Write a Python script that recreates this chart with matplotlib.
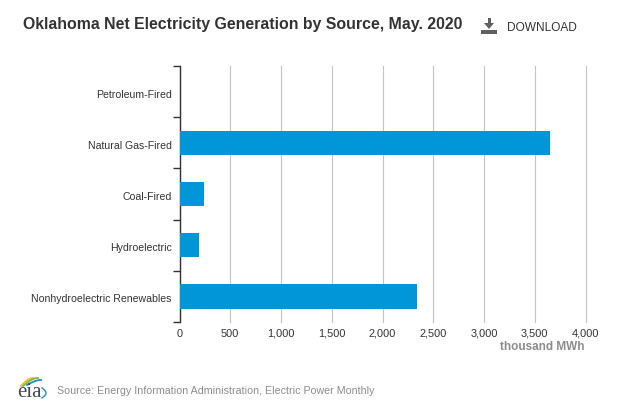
import matplotlib
matplotlib.use("Agg")
import matplotlib.pyplot as plt
import numpy as np
from matplotlib.patches import Polygon, Rectangle

plt.rcParams["font.family"] = ["Liberation Sans", "DejaVu Sans"]

# ── data ──────────────────────────────────────────────
categories = [
    "Petroleum-Fired",
    "Natural Gas-Fired",
    "Coal-Fired",
    "Hydroelectric",
    "Nonhydroelectric Renewables",
]
values = [1, 3650, 240, 195, 2340]
x_ticks = [0, 500, 1000, 1500, 2000, 2500, 3000, 3500, 4000]

W, H = 624, 411
BAR_BLUE = "#0096d7"
DARK = "#333333"
GREY = "#8c8c8c"


def fx(px):
    return px / W


def fy(py):
    return 1 - py / H


fig = plt.figure(figsize=(W / 100, H / 100), dpi=100, facecolor="white")

# plot area: x 179.5-585.5, y 66-322 in pixels
ax = fig.add_axes([fx(179.5), fy(322), 406 / W, 256 / H])
y = np.arange(len(categories))
ax.barh(y, values, height=0.48, color=BAR_BLUE, zorder=3)
ax.set_xlim(0, 4000)
ax.set_ylim(len(categories) - 0.5, -0.5)

ax.set_xticks(x_ticks)
ax.set_xticklabels([f"{v:,}" for v in x_ticks], fontsize=7.9, color=DARK)
ax.tick_params(axis="x", length=0, pad=5)
ax.grid(True, axis="x", color="#c4c4c4", lw=0.8, zorder=1, clip_on=False)

# categories sit between the ticks
ax.set_yticks(np.arange(len(categories) + 1) - 0.5)
ax.set_yticklabels([])
ax.tick_params(axis="y", length=5, width=1, color=DARK)
for pos, name in zip(y, categories):
    ax.annotate(name, (0, pos), xycoords=("axes fraction", "data"),
                xytext=(-8, -3), textcoords="offset pixels",
                ha="right", va="center", fontsize=7.6, color=DARK)

for side in ("top", "right", "bottom"):
    ax.spines[side].set_visible(False)
ax.spines["left"].set_color(DARK)
ax.spines["left"].set_linewidth(1)

fig.text(fx(23), fy(24), "Oklahoma Net Electricity Generation by Source, May. 2020",
         fontsize=11.44, fontweight="bold", color=DARK, va="center", ha="left")
fig.text(fx(507), fy(28), "DOWNLOAD", fontsize=8.6, color=DARK, va="center", ha="left")
fig.text(fx(585), fy(347), "thousand MWh", fontsize=8.5, fontweight="bold",
         color=GREY, va="center", ha="right")
fig.text(fx(57), fy(391), "Source: Energy Information Administration, Electric Power Monthly",
         fontsize=7.62, color=GREY, va="center", ha="left")

# download icon
icon = "#5f5f5f"
fig.add_artist(Rectangle((fx(481), fy(34)), 16 / W, 4 / H, color=icon,
                         transform=fig.transFigure, lw=0))
fig.add_artist(Rectangle((fx(487.5), fy(24)), 3 / W, 6 / H, color=icon,
                         transform=fig.transFigure, lw=0))
fig.add_artist(Polygon([(fx(484), fy(23)), (fx(494), fy(23)), (fx(489), fy(29))],
                       color=icon, transform=fig.transFigure, lw=0))

# eia logo
fig.text(fx(29.5), fy(392), "eia", family="Liberation Serif", fontsize=15,
         color="#3f4a55", ha="center", va="center")
t = np.linspace(0, 1, 30)
arcs = [("#f2c21b", 21, 33, 386, 378), ("#7ab648", 23, 38, 386, 378), ("#1d8fc9", 27, 41, 385, 380)]
for colour, x0, x1, y0, y1 in arcs:
    xs = x0 + (x1 - x0) * t
    ys = y0 + (y1 - y0) * np.sin(np.pi / 2 * t)
    fig.add_artist(plt.Line2D(xs / W, 1 - ys / H, color=colour, lw=1.3,
                              transform=fig.transFigure))
# blue tail curling round the right of the letters
xs = 42 + 4 * np.sin(np.pi * t)
ys = 388 + 10 * t
fig.add_artist(plt.Line2D(xs / W, 1 - ys / H, color="#1d8fc9", lw=1,
                          transform=fig.transFigure))

fig.savefig("out.png", dpi=100, facecolor="white")
